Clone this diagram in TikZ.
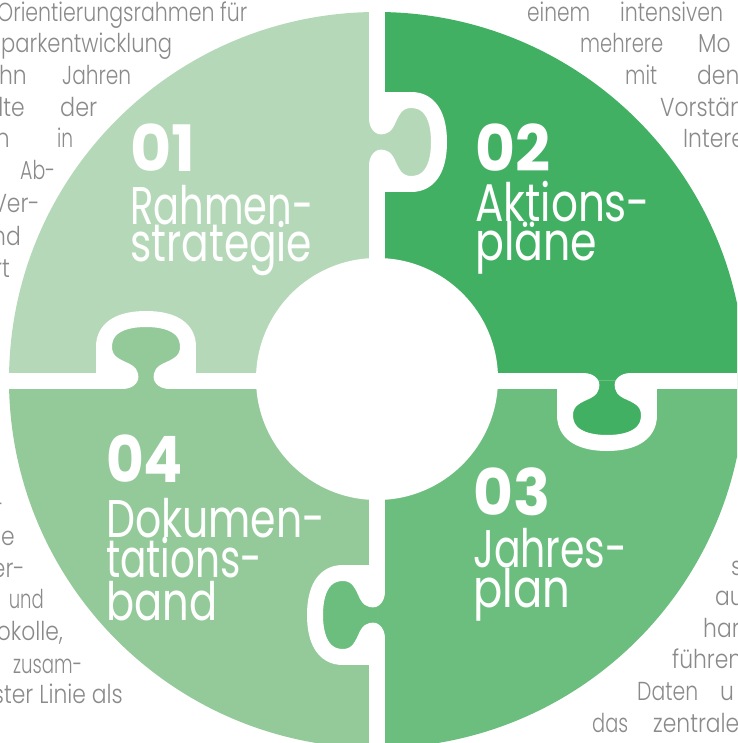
\documentclass[tikz,border=0pt]{standalone}
\usepackage{fontspec}
\usepackage{graphicx}
\setmainfont{Poppins}
\newfontfamily\lightfont{Poppins Light}
\definecolor{qone}{HTML}{B5D9B8}
\definecolor{qtwo}{HTML}{42B063}
\definecolor{qthree}{HTML}{6CBE7E}
\definecolor{qfour}{HTML}{94CA9A}
\definecolor{bodygray}{HTML}{8A8A8A}
\newcommand{\fitw}[2]{\resizebox{#1pt}{\height}{#2}}
\newcommand{\nar}[1]{\scalebox{0.84}[1]{#1}}
\tikzset{
  bgtext/.style={text=bodygray, inner sep=0pt, anchor=base west, font=\lightfont\fontsize{26}{26}\selectfont},
  bgend/.style={bgtext, anchor=base east},
  lbl/.style={text=white, inner sep=0pt, anchor=base west, font=\fontsize{53}{53}\selectfont},
  num/.style={text=white, inner sep=0pt, anchor=base west, font=\bfseries\fontsize{64}{64}\selectfont},
  gapline/.style={draw=white, line width=16pt},
  knobedge/.style={draw=white, line width=16pt, line cap=round, line join=round},
  knobline/.style={insert path={(-24,0) .. controls (-15,0) and (-12,-6) .. (-20,-10) .. controls (-28,-14) and (-42,-18) .. (-42,-34) .. controls (-42,-54) and (-24,-62) .. (0,-62) .. controls (24,-62) and (42,-54) .. (42,-34) .. controls (42,-18) and (28,-14) .. (20,-10) .. controls (12,-6) and (15,0) .. (24,0)}}
}
\begin{document}
\begin{tikzpicture}[x=1pt,y=-1pt]
\useasboundingbox (0,0) rectangle (737,743);
\clip (0,0) rectangle (737,743);

% ---- background text, top left
\node[bgtext] (tl1) at (-3,22) {\fitw{250}{Orientierungsrahmen für}};
\node[bgtext] (tl2) at (1,53) {\fitw{171}{parkentwicklung}};
\node[bgend] (tl3a) at (27,85) {\nar{ehn}};
\node[bgtext] (tl3b) at (62,85) {\fitw{69}{Jahren}};
\node[bgend] (tl4a) at (25,117) {\nar{lte}};
\node[bgtext] (tl4b) at (60,117) {\fitw{37}{der}};
\node[bgend] (tl5a) at (10,148) {\nar{n}};
\node[bgtext] (tl5b) at (57,148) {\fitw{16}{in}};
\node[bgtext] (tl6) at (20,180) {\fitw{35}{Ab-}};
\node[bgend] (tl7) at (40,213) {\nar{Ver-}};
\node[bgend] (tl8) at (21,245) {\nar{nd}};
\node[bgend] (tl9) at (10,277) {\nar{rt}};
% ---- top right
\node[bgtext] (tr1a) at (527,22) {\fitw{63}{einem}};
\node[bgtext] (tr1b) at (620,22) {\fitw{103}{intensiven}};
\node[bgtext] (tr2a) at (580,53) {\fitw{83}{mehrere}};
\node[bgtext] (tr2b) at (698,53) {\nar{Mo}};
\node[bgtext] (tr3a) at (625,85) {\fitw{32}{mit}};
\node[bgtext] (tr3b) at (697,85) {\nar{den}};
\node[bgtext] (tr4) at (660,117) {\nar{Vorstän}};
\node[bgtext] (tr5) at (683,148) {\nar{Intere}};
% ---- bottom left
\node[bgend] (bl0) at (4,513) {\nar{-}};
\node[bgend] (bl1) at (15,545) {\nar{le}};
\node[bgend] (bl2) at (25,577) {\nar{ber-}};
\node[bgend] (bl3) at (44,608) {\fitw{35}{und}};
\node[bgend] (bl4) at (63,640) {\nar{okolle,}};
\node[bgtext] (bl5) at (13,673) {\fitw{69}{zusam-}};
\node[bgend] (bl6) at (123,703) {\nar{ster Linie als}};
% ---- bottom right
\node[bgtext] (br1) at (731,575) {\nar{s}};
\node[bgtext] (br2) at (715,605) {\nar{au}};
\node[bgtext] (br3) at (703,637) {\nar{har}};
\node[bgtext] (br4) at (672,668) {\nar{führen}};
\node[bgtext] (br5a) at (637,700) {\fitw{61}{Daten}};
\node[bgtext] (br5b) at (720,700) {\nar{u}};
\node[bgtext] (br6a) at (592,732) {\fitw{36}{das}};
\node[bgtext] (br6b) at (653,732) {\nar{zentrale,}};

% ---- quadrants
\def\R{368}
\fill[qone] (377,380) -- ++(180:\R) arc[start angle=180,end angle=270,radius=\R] -- cycle;
\fill[qtwo] (377,380) -- ++(270:\R) arc[start angle=270,end angle=360,radius=\R] -- cycle;
\fill[qthree] (377,380) -- ++(0:\R) arc[start angle=0,end angle=90,radius=\R] -- cycle;
\fill[qfour] (377,380) -- ++(90:\R) arc[start angle=90,end angle=180,radius=\R] -- cycle;

% ---- knob fills
\begin{scope}[shift={(377,142)},rotate=-90]
  \fill[qone, knobline] -- cycle;
\end{scope}
\begin{scope}[shift={(146,381)}]
  \fill[qfour, knobline] -- cycle;
\end{scope}
\begin{scope}[shift={(607,381)},rotate=180]
  \fill[qtwo, knobline] -- cycle;
\end{scope}
\begin{scope}[shift={(377,615)},rotate=90]
  \fill[qthree, knobline] -- cycle;
\end{scope}

% ---- gaps
\coordinate (hA) at (0,381);
\coordinate (hB) at (122,381);
\coordinate (hC) at (170,381);
\coordinate (hD) at (583,381);
\coordinate (hE) at (631,381);
\coordinate (hF) at (737,381);
\coordinate (vA) at (377,0);
\coordinate (vB) at (377,118);
\coordinate (vC) at (377,166);
\coordinate (vD) at (377,591);
\coordinate (vE) at (377,639);
\coordinate (vF) at (377,743);
\draw[gapline] (hA) -- (hB) (hC) -- (hD) (hE) -- (hF);
\draw[gapline] (vA) -- (vB) (vC) -- (vD) (vE) -- (vF);

\begin{scope}[shift={(377,142)},rotate=-90]
  \draw[knobedge, knobline];
  \draw[gapline] (-42,-30) -- (-42,0) (42,-30) -- (42,0);
\end{scope}
\begin{scope}[shift={(146,381)}]
  \draw[knobedge, knobline];
  \draw[gapline] (-42,-30) -- (-42,0) (42,-30) -- (42,0);
\end{scope}
\begin{scope}[shift={(607,381)},rotate=180]
  \draw[knobedge, knobline];
  \draw[gapline] (-42,-30) -- (-42,0) (42,-30) -- (42,0);
\end{scope}
\begin{scope}[shift={(377,615)},rotate=90]
  \draw[knobedge, knobline];
  \draw[gapline] (-42,-30) -- (-42,0) (42,-30) -- (42,0);
\end{scope}

% ---- centre
\fill[white] (377,379) circle[radius=121];

% ---- labels
\node[num] (n1) at (130,172) {\fitw{65}{01}};
\node[lbl] (a1) at (130,225) {\fitw{183}{Rahmen-}};
\node[lbl] (b1) at (130,261) {\fitw{182}{strategie}};
\node[num] (n2) at (475,172) {\fitw{75}{02}};
\node[lbl] (a2) at (475,222) {\fitw{175}{Aktions-}};
\node[lbl] (b2) at (475,260) {\fitw{122}{pläne}};
\node[num] (n3) at (473,515) {\fitw{77}{03}};
\node[lbl] (a3) at (473,567) {\fitw{154}{Jahres-}};
\node[lbl] (b3) at (473,607) {\fitw{97}{plan}};
\node[num] (n4) at (106,482) {\fitw{77}{04}};
\node[lbl] (a4) at (106,537) {\fitw{219}{Dokumen-}};
\node[lbl] (b4) at (106,577) {\fitw{156}{tations-}};
\node[lbl] (c4) at (106,620) {\fitw{111}{band}};
\end{tikzpicture}
\end{document}
